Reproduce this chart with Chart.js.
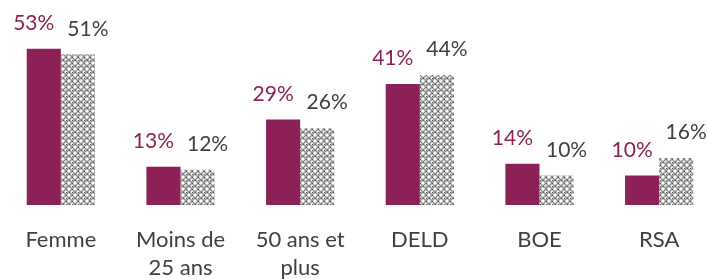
<!DOCTYPE html>
<html>
<head>
<meta charset="utf-8">
<script src="https://cdn.jsdelivr.net/npm/chart.js@4"></script>
<style>
  html, body { margin: 0; padding: 0; background: #fff; overflow: hidden; }
  #wrap { position: relative; width: 720px; height: 315px; }
</style>
</head>
<body>
<div id="wrap"><canvas id="chart"></canvas></div>
<script>
// data
var categories = ['Femme', ['Moins de', '25 ans'], ['50 ans et', 'plus'], 'DELD', 'BOE', 'RSA'];
var seriesA = [53, 13, 29, 41, 14, 10];
var seriesB = [51, 12, 26, 44, 10, 16];

var purple = '#8c2158';
var grey = '#404040';

// grey lattice pattern for the second series
var makePattern = function() {
  var c = document.createElement('canvas');
  c.width = 6; c.height = 6;
  var g = c.getContext('2d');
  g.fillStyle = '#ffffff';
  g.fillRect(0, 0, 6, 6);
  g.strokeStyle = '#8a8a8a';
  g.lineWidth = 1.3;
  g.beginPath();
  g.arc(3, 3, 2.4, 0, Math.PI * 2);
  g.stroke();
  g.fillStyle = '#5a5a5a';
  g.fillRect(0, 0, 1, 1);
  g.fillRect(3, 0, 1, 1);
  g.fillRect(0, 3, 1, 1);
  return g.createPattern(c, 'repeat');
};

var valueLabels = {
  id: 'valueLabels',
  afterDatasetsDraw: function(chart) {
    var ctx = chart.ctx;
    ctx.save();
    ctx.font = '21px Lato';
    ctx.textAlign = 'center';
    ctx.textBaseline = 'alphabetic';
    chart.data.datasets.forEach(function(ds, i) {
      var meta = chart.getDatasetMeta(i);
      ctx.fillStyle = i == 0 ? purple : grey;
      meta.data.forEach(function(bar, j) {
        var dx = i == 0 ? -10 : 10;
        ctx.fillText(ds.data[j] + '%', bar.x + dx, bar.y - 19);
      });
    });
    ctx.restore();
  }
};

var chart = new Chart(document.getElementById('chart').getContext('2d'), {
  type: 'bar',
  data: {
    labels: categories,
    datasets: [{
      data: seriesA,
      backgroundColor: purple,
      categoryPercentage: 0.57,
      barPercentage: 1
    }, {
      data: seriesB,
      backgroundColor: makePattern(),
      categoryPercentage: 0.57,
      barPercentage: 1
    }]
  },
  options: {
    responsive: true,
    maintainAspectRatio: false,
    animation: false,
    layout: { padding: { left: 1, right: 1, top: 28, bottom: 20 } },
    plugins: { legend: { display: false }, tooltip: { enabled: false } },
    scales: {
      y: { display: false, min: 0, max: 60 },
      x: {
        grid: { display: false },
        border: { display: false },
        ticks: {
          color: grey,
          font: { family: 'Lato', size: 22, lineHeight: 1.27 },
          padding: 13,
          autoSkip: false,
          maxRotation: 0
        }
      }
    }
  },
  plugins: [valueLabels]
});
</script>
</body>
</html>
